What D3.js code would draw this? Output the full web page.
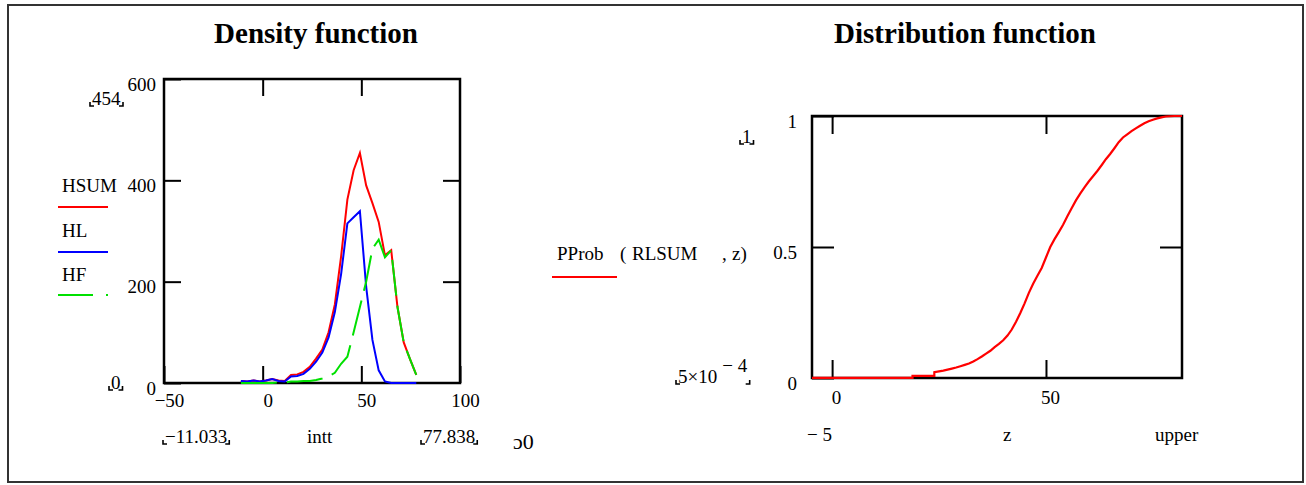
<!DOCTYPE html>
<html lang="en">
<head>
  <meta charset="UTF-8">
  <style>
    body { margin: 0; overflow: hidden; background: #fff; }
    svg { display: block; }
    text { font-family: "Liberation Serif", "Times New Roman", serif; font-size: 19px; fill: #000; }
    .title { font-size: 29px; font-weight: bold; text-anchor: middle; }
    .tick text { font-family: "Liberation Serif", serif; font-size: 19px; }
    .tick line { stroke: #000; stroke-width: 2; }
    .frame { fill: none; stroke: #000; stroke-width: 2.5; }
    .corner { fill: none; stroke: #000; stroke-width: 1.6; }
  </style>
  <script src="https://d3js.org/d3.v7.min.js"></script>
</head>
<body>
<svg id="chart"></svg>
<script>
  // density plot data (histogram of intt)
  const intt = [-11.033, -7.859, -4.685, -1.511, 1.663, 4.837, 8.011, 11.185, 14.359, 17.533,
    20.707, 23.881, 27.055, 30.229, 33.403, 36.577, 39.751, 42.925, 46.099, 49.273,
    52.447, 55.621, 58.795, 61.969, 65.143, 68.317, 71.491, 74.665, 77.838];
  const HSUM = [4, 3, 5, 3, 5, 8, 5, 4, 16, 17, 22, 32, 48, 66, 100, 155, 250, 362, 420, 454,
    390, 355, 318, 252, 262, 150, 80, 47, 16];
  const HL = [4, 3, 5, 3, 5, 8, 4, 3, 13, 14, 18, 28, 42, 60, 90, 140, 215, 315, 327, 339,
    190, 85, 25, 3, 0, 0, 0, 0, 0];
  const HF = [0, 0, 0, 0, 0, 0, 1, 1, 3, 3, 4, 4, 6, 9, 13, 20, 38, 52, 100, 150,
    200, 265, 283, 248, 262, 150, 80, 47, 16];

  const densXTicks = [-50, 0, 50, 100];
  const densYTicks = [0, 200, 400, 600];

  // distribution function PProb(RLSUM, z)
  const cdfZ = [-4.7, 18.8, 18.8, 23.9, 23.9, 25, 26, 27, 28, 29, 30, 31, 32, 33, 34, 35, 36, 37,
    38, 39, 40, 41, 42, 43, 44, 45, 46, 47, 48, 49, 50, 51, 52, 53, 54, 55, 56, 57,
    58, 59, 60, 61, 62, 63, 64, 65, 66, 67, 68, 69, 70, 71, 72, 73, 74, 75, 76, 77,
    78, 79, 80, 81.8];
  const cdfP = [0.0005, 0.0005, 0.008, 0.008, 0.022, 0.025, 0.028, 0.032, 0.036, 0.04,
    0.045, 0.05, 0.055, 0.063, 0.072, 0.082, 0.093, 0.104, 0.118, 0.13, 0.144, 0.162, 0.185,
    0.215, 0.248, 0.285, 0.325, 0.36, 0.39, 0.42, 0.46, 0.5, 0.53, 0.557, 0.585, 0.617, 0.648,
    0.678, 0.704, 0.728, 0.75, 0.77, 0.79, 0.812, 0.835, 0.855, 0.877, 0.9, 0.918, 0.93, 0.942,
    0.953, 0.963, 0.972, 0.98, 0.986, 0.991, 0.995, 0.998, 0.999, 1, 1];

  const cdfYTicks = [0, 0.5, 1];

  const svg = d3.select("#chart").attr("width", 1306).attr("height", 485);

  // outer border
  svg.append("rect").attr("x", 8).attr("y", 5).attr("width", 1295).attr("height", 477)
    .attr("fill", "none").attr("stroke", "#333").attr("stroke-width", 2);

  // small corner marks around Mathcad limit labels
  function bracketLabel(x, y, parts) {
    const t = svg.append("text").attr("x", x).attr("y", y);
    parts(t);
    const b = t.node().getBBox();
    const by = y + 1, l = b.x - 2, r = b.x + b.width + 2;
    svg.append("path").attr("class", "corner")
      .attr("d", `M${l},${by - 4}V${by}H${l + 4}M${r - 4},${by}H${r}V${by - 4}`);
  }

  // ---------- Density function ----------
  const x1 = d3.scaleLinear().domain([-50, 100]).range([164, 460]);
  const y1 = d3.scaleLinear().domain([0, 600]).range([383, 79]);

  svg.append("text").attr("class", "title").attr("x", 316).attr("y", 43).text("Density function");

  const g1 = svg.append("g");
  g1.append("g").attr("transform", `translate(${x1.range()[0]},0)`)
    .call(d3.axisLeft(y1).tickValues(densYTicks).tickSizeInner(-17).tickSizeOuter(0).tickPadding(8))
    .call(g => g.select(".domain").remove())
    .call(g => g.selectAll("text").attr("dy", "0.58em"));
  g1.append("g").attr("transform", `translate(${x1.range()[1]},0)`)
    .call(d3.axisRight(y1).tickValues([200, 400]).tickSizeInner(-17).tickSizeOuter(0).tickFormat(""))
    .call(g => g.select(".domain").remove());
  g1.append("g").attr("transform", `translate(0,${y1.range()[0]})`)
    .call(d3.axisBottom(x1).tickValues(densXTicks).tickSizeInner(-17).tickSizeOuter(0).tickPadding(11))
    .call(g => g.select(".domain").remove())
    .call(g => g.selectAll("text").attr("dx", 5));
  g1.append("g").attr("transform", `translate(0,${y1.range()[1]})`)
    .call(d3.axisTop(x1).tickValues([0, 50]).tickSizeInner(-17).tickSizeOuter(0).tickFormat(""))
    .call(g => g.select(".domain").remove());
  g1.selectAll(".tick text").attr("font-family", null).attr("font-size", null);

  g1.append("rect").attr("class", "frame")
    .attr("x", x1.range()[0]).attr("y", y1.range()[1])
    .attr("width", x1.range()[1] - x1.range()[0]).attr("height", y1.range()[0] - y1.range()[1]);

  const densLine = (vals) => d3.line().x((d, i) => x1(intt[i])).y(d => y1(d))(vals);
  g1.append("path").attr("d", densLine(HSUM)).attr("fill", "none").attr("stroke", "#ff0000").attr("stroke-width", 2);
  g1.append("path").attr("d", densLine(HL)).attr("fill", "none").attr("stroke", "#0000ff").attr("stroke-width", 2);
  g1.append("path").attr("d", densLine(HF)).attr("fill", "none").attr("stroke", "#00e000").attr("stroke-width", 2)
    .attr("stroke-dasharray", "36,10");

  // legend
  svg.append("text").attr("x", 62).attr("y", 192).text("HSUM");
  svg.append("line").attr("x1", 58).attr("x2", 108).attr("y1", 207).attr("y2", 207).attr("stroke", "#ff0000").attr("stroke-width", 2);
  svg.append("text").attr("x", 62).attr("y", 237).text("HL");
  svg.append("line").attr("x1", 58).attr("x2", 108).attr("y1", 252).attr("y2", 252).attr("stroke", "#0000ff").attr("stroke-width", 2);
  svg.append("text").attr("x", 62).attr("y", 281).text("HF");
  svg.append("line").attr("x1", 58).attr("x2", 108).attr("y1", 295).attr("y2", 295).attr("stroke", "#00e000").attr("stroke-width", 2)
    .attr("stroke-dasharray", "35,13,2,13");

  bracketLabel(92, 105, t => t.text("454"));
  bracketLabel(111, 389, t => t.text("0"));
  bracketLabel(165, 443, t => t.text("\u221211.033"));
  svg.append("text").attr("x", 307).attr("y", 443).text("intt");
  bracketLabel(423, 443, t => t.text("77.838"));
  svg.append("text").attr("x", 513).attr("y", 449).style("font-size", "22px")
    .style("font-family", "'Liberation Serif', 'DejaVu Serif', serif").text("\u02540");

  // ---------- Distribution function ----------
  const x2 = d3.scaleLinear().domain([-4.7, 81.8]).range([812, 1182]);
  const y2 = d3.scaleLinear().domain([0, 1]).range([378, 116]);

  svg.append("text").attr("class", "title").attr("x", 965).attr("y", 43).text("Distribution function");

  const g2 = svg.append("g");
  g2.append("g").attr("transform", `translate(${x2.range()[0]},0)`)
    .call(d3.axisLeft(y2).tickValues(cdfYTicks).tickSizeInner(-22).tickSizeOuter(0).tickPadding(15)
      .tickFormat(d3.format("~g")))
    .call(g => g.select(".domain").remove())
    .call(g => g.selectAll("text").attr("dy", "0.6em"));
  g2.append("g").attr("transform", `translate(${x2.range()[1]},0)`)
    .call(d3.axisRight(y2).tickValues([0.5]).tickSizeInner(-22).tickSizeOuter(0).tickFormat(""))
    .call(g => g.select(".domain").remove());
  g2.append("g").attr("transform", `translate(0,${y2.range()[0]})`)
    .call(d3.axisBottom(x2).tickValues([0, 50]).tickSizeInner(-18).tickSizeOuter(0).tickPadding(13))
    .call(g => g.select(".domain").remove())
    .call(g => g.selectAll("text").attr("dx", 4));
  g2.append("g").attr("transform", `translate(0,${y2.range()[1]})`)
    .call(d3.axisTop(x2).tickValues([0, 50]).tickSizeInner(-18).tickSizeOuter(0).tickFormat(""))
    .call(g => g.select(".domain").remove());
  g2.selectAll(".tick text").attr("font-family", null).attr("font-size", null);

  g2.append("rect").attr("class", "frame")
    .attr("x", x2.range()[0]).attr("y", y2.range()[1])
    .attr("width", x2.range()[1] - x2.range()[0]).attr("height", y2.range()[0] - y2.range()[1]);

  g2.append("path")
    .attr("d", d3.line().x((d, i) => x2(cdfZ[i])).y(d => y2(d))(cdfP))
    .attr("fill", "none").attr("stroke", "#ff0000").attr("stroke-width", 2.2);

  // legend
  svg.append("text").attr("x", 557).attr("y", 260).text("PProb");
  svg.append("text").attr("x", 620).attr("y", 260).text("(");
  svg.append("text").attr("x", 632).attr("y", 260).text("RLSUM");
  svg.append("text").attr("x", 722).attr("y", 260).text(",");
  svg.append("text").attr("x", 732).attr("y", 260).text("z)");
  svg.append("line").attr("x1", 552).attr("x2", 617).attr("y1", 277).attr("y2", 277).attr("stroke", "#ff0000").attr("stroke-width", 2);

  bracketLabel(742, 143, t => t.text("1"));
  bracketLabel(678, 383, t => {
    t.append("tspan").text("5\u00d710");
    t.append("tspan").attr("dx", 5).attr("dy", -11).text("\u2212 4");
  });
  svg.append("text").attr("x", 807).attr("y", 441).text("\u2212 5");
  svg.append("text").attr("x", 1003).attr("y", 441).text("z");
  svg.append("text").attr("x", 1155).attr("y", 441).text("upper");
</script>
</body>
</html>
